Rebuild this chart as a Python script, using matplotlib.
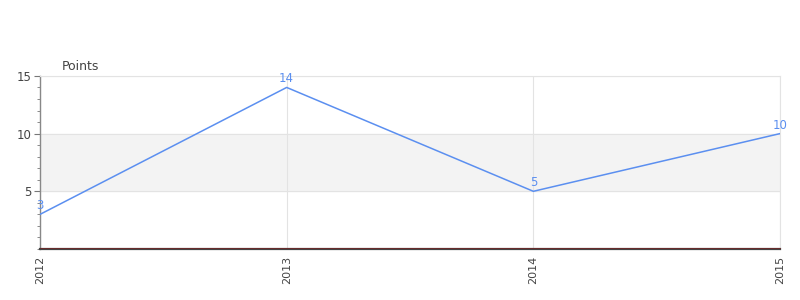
import matplotlib.pyplot as plt
from matplotlib.ticker import MultipleLocator

years = ['2012', '2013', '2014', '2015']
points = [3, 14, 5, 10]

LINE = '#5b8ff0'

fig = plt.figure(figsize=(8, 3), dpi=100)
ax = fig.add_axes([0.05, 0.17, 0.925, 0.577])

x = list(range(len(years)))
ax.plot(x, points, color=LINE, lw=1.1, zorder=3)
for xi, v in zip(x, points):
    ax.annotate(str(v), (xi, v), xytext=(0, 1.5), textcoords='offset points',
                ha='center', va='bottom', color=LINE, fontsize=8.5, zorder=4)

ax.set_xlim(0, len(years) - 1)
ax.set_ylim(0, 15)
ax.axhspan(5, 10, color='#f3f3f3', zorder=0)
ax.set_xticks(x)
ax.set_xticklabels(years, rotation=90, fontsize=8, color='#444444')
ax.set_yticks([5, 10, 15])
ax.set_yticklabels(['5', '10', '15'], fontsize=8.5, color='#444444')
ax.yaxis.set_minor_locator(MultipleLocator(1))
ax.grid(True, color='#e3e3e3', lw=0.8, zorder=1)
ax.set_axisbelow(True)

ax.tick_params(axis='y', which='major', length=4, color='#777777', pad=2)
ax.tick_params(axis='y', which='minor', length=2, color='#777777')
ax.tick_params(axis='x', length=0, pad=5)

for side in ['top', 'right']:
    ax.spines[side].set_color('#e3e3e3')
    ax.spines[side].set_linewidth(0.8)
ax.spines['left'].set_color('#888888')
ax.spines['left'].set_linewidth(1)
ax.spines['bottom'].set_color('#444444')
ax.spines['bottom'].set_linewidth(1.6)
# thin dark red baseline drawn over the axis line
ax.axhline(0.08, color='#7a2222', lw=0.5, zorder=5, clip_on=False)

fig.text(62 / 800, 1 - 66 / 300, 'Points', fontsize=9, color='#444444', va='center', ha='left')

fig.savefig('out.png', dpi=100)
